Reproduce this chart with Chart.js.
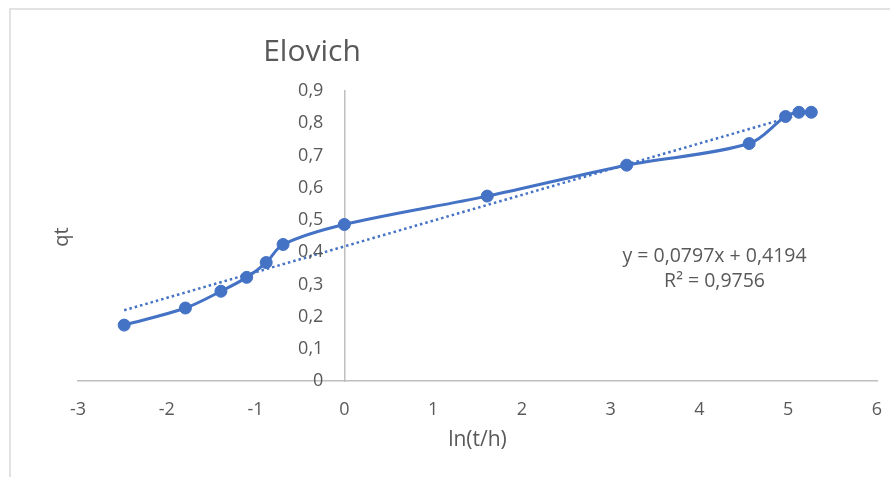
<!DOCTYPE html>
<html>
<head>
<meta charset="utf-8">
<script src="https://cdn.jsdelivr.net/npm/chart.js@4.4.1/dist/chart.umd.min.js"></script>
<style>
  html, body { margin: 0; padding: 0; background: #ffffff; }
  #wrap { width: 890px; height: 477px; position: relative; }
</style>
</head>
<body>
<div id="wrap"><canvas id="elovich"></canvas></div>
<script>
/* --------------- Data ------------------------------------------- */
const lnT = [-2.48, -1.79, -1.39, -1.10, -0.88, -0.69, 0, 1.61, 3.18, 4.56, 4.97, 5.12, 5.26];
const qt = [0.174, 0.227, 0.279, 0.322, 0.368, 0.424, 0.486, 0.574, 0.670, 0.737, 0.821, 0.834, 0.834];
/* --------------- Linear trend (Excel) --------------------- */
const trendX = [-2.48, 5.26];
const trendY = [0.22, 0.838];
const trendText = ["y = 0,0797x + 0,4194", "R² = 0,9756"];
const chartTitle = "Elovich";
const xTitle = "ln(t/h)";
const yTitle = "qt";

const blue = "#4472C4";
const grey = "#595959";
const axisGrey = "#BFBFBF";
const font = "'Open Sans', 'Noto Sans', sans-serif";

const toPoints = (xs, ys) => xs.map((x, i) => ({ x: x, y: ys[i] }));
const comma = (v) => String(Math.round(v * 10) / 10).replace(".", ",");

/* --------------- Extra texts: frame, title, y labels, equation --------------------- */
const decorations = {
  id: "decorations",
  beforeDraw(chart) {
    const ctx = chart.ctx;
    ctx.save();
    ctx.fillStyle = "#ffffff";
    ctx.fillRect(0, 0, chart.width, chart.height);
    ctx.strokeStyle = "#D9D9D9";
    ctx.lineWidth = 1.5;
    ctx.strokeRect(10, 9, chart.width + 20, chart.height + 20);
    ctx.restore();
  },
  afterDraw(chart) {
    const ctx = chart.ctx;
    const xs = chart.scales.x;
    const ys = chart.scales.y;
    ctx.save();
    ctx.fillStyle = grey;
    ctx.textAlign = "center";
    ctx.textBaseline = "middle";
    ctx.font = "30px " + font;
    ctx.fillText(chartTitle, 312, 52);

    ctx.font = "20px " + font;
    ctx.save();
    ctx.translate(62, 237);
    ctx.rotate(-Math.PI / 2);
    ctx.fillText(yTitle, 0, 0);
    ctx.restore();

    // y tick labels sit left of the axis drawn at x = 0
    ctx.font = "18px " + font;
    ctx.textAlign = "right";
    const axisX = xs.getPixelForValue(0);
    ys.ticks.forEach((t) => {
      ctx.fillText(comma(t.value), axisX - 21, ys.getPixelForValue(t.value));
    });

    ctx.textAlign = "center";
    ctx.font = "19.5px " + font;
    const cx = xs.getPixelForValue(4.17);
    const cy = ys.getPixelForValue(0.347);
    ctx.fillText(trendText[0], cx, cy - 12.5);
    ctx.fillText(trendText[1], cx, cy + 12.5);
    ctx.restore();
  },
};

new Chart(document.getElementById("elovich"), {
  type: "scatter",
  plugins: [decorations],
  data: {
    datasets: [
      {
        label: "qt",
        data: toPoints(lnT, qt),
        showLine: true,
        borderColor: blue,
        borderWidth: 3,
        backgroundColor: blue,
        pointBackgroundColor: blue,
        pointBorderColor: blue,
        pointBorderWidth: 1,
        pointRadius: 6,
        tension: 0.33,
        order: 1,
      },
      {
        label: "Linear (qt)",
        data: toPoints(trendX, trendY),
        showLine: true,
        borderColor: blue,
        borderWidth: 2.5,
        borderDash: [2.5, 3],
        pointRadius: 0,
        order: 2,
      },
    ],
  },
  options: {
    responsive: true,
    maintainAspectRatio: false,
    animation: false,
    layout: { padding: { left: 78, right: 13, top: 91, bottom: 20 } },
    plugins: {
      legend: { display: false },
      tooltip: { enabled: false },
      title: { display: false },
    },
    scales: {
      x: {
        type: "linear",
        position: "bottom",
        min: -3,
        max: 6,
        grid: { display: false, drawTicks: true, tickLength: 11 },
        border: { color: axisGrey, width: 1.5 },
        ticks: {
          stepSize: 1,
          padding: 7,
          color: grey,
          font: { family: font, size: 18 },
        },
        title: {
          display: true,
          text: xTitle,
          color: grey,
          font: { family: font, size: 21 },
          padding: { top: 0, bottom: 4 },
        },
      },
      y: {
        type: "linear",
        position: { x: 0 },
        min: 0,
        max: 0.9,
        grid: { display: false, drawTicks: false },
        border: { color: axisGrey, width: 1.5 },
        ticks: {
          stepSize: 0.1,
          display: false,
        },
      },
    },
  },
});
</script>
</body>
</html>
